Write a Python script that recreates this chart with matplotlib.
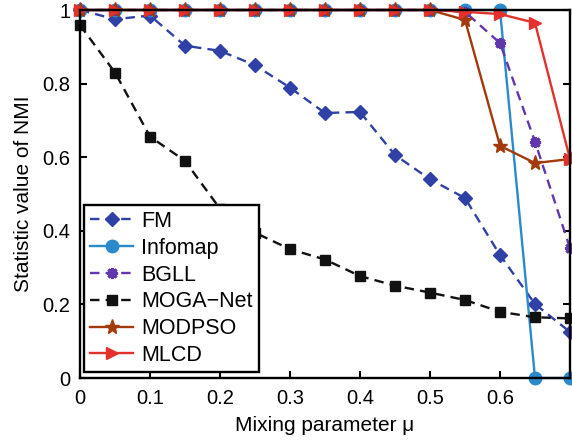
import numpy as np
import matplotlib
matplotlib.use('Agg')
import matplotlib.pyplot as plt

plt.rcParams['font.family'] = ['Liberation Sans', 'DejaVu Sans']

# Mixing parameter values and NMI for each algorithm
mu = [0.0, 0.05, 0.1, 0.15, 0.2, 0.25, 0.3, 0.35, 0.4, 0.45, 0.5, 0.55, 0.6, 0.65, 0.7]
fm = [1.0, 0.975, 0.985, 0.903, 0.889, 0.85, 0.789, 0.72, 0.723, 0.606, 0.54, 0.489, 0.334, 0.201, 0.125]
infomap = [1.0, 1.0, 1.0, 1.0, 1.0, 1.0, 1.0, 1.0, 1.0, 1.0, 1.0, 1.0, 1.0, 0.0, 0.0]
bgll = [1.0, 1.0, 1.0, 1.0, 1.0, 1.0, 1.0, 1.0, 1.0, 1.0, 1.0, 0.995, 0.91, 0.642, 0.353]
moga = [0.959, 0.83, 0.656, 0.59, 0.46, 0.395, 0.35, 0.322, 0.277, 0.251, 0.232, 0.212, 0.18, 0.165, 0.162]
modpso = [1.0, 1.0, 1.0, 1.0, 1.0, 1.0, 1.0, 1.0, 1.0, 1.0, 1.0, 0.973, 0.631, 0.584, 0.595]
mlcd = [1.0, 1.0, 1.0, 1.0, 1.0, 1.0, 1.0, 1.0, 1.0, 1.0, 1.0, 0.995, 0.989, 0.965, 0.595]

fig = plt.figure(figsize=(5.72, 4.4), dpi=100)
ax = fig.add_axes([80 / 572, 62 / 440, 490 / 572, 368 / 440])

dash = (4, 2.6)
ax.plot(mu, fm, '--', dashes=dash, color='#2f41a6', lw=1.7, marker='D', ms=7.5, label='FM', clip_on=False)
ax.plot(mu, infomap, '-', color='#2a8acb', lw=1.7, marker='o', ms=9, label='Infomap', clip_on=False)
ax.plot(mu, bgll, '--', dashes=dash, color='#6237ad', lw=1.7, marker=(8, 2, 0), ms=8, mew=2.2,
        label='BGLL', clip_on=False)
ax.plot(mu, moga, '--', dashes=dash, color='#111111', lw=1.7, marker='s', ms=6.5, label='MOGA\u2212Net',
        clip_on=False)
ax.plot(mu, modpso, '-', color='#a33a0c', lw=1.7, marker='*', ms=11, label='MODPSO', clip_on=False)
ax.plot(mu, mlcd, '-', color='#e4312b', lw=1.7, marker='>', ms=9, label='MLCD', clip_on=False)

ax.set_xlim(0, 0.7)
ax.set_ylim(0, 1)
ax.set_xticks([0, 0.1, 0.2, 0.3, 0.4, 0.5, 0.6, 0.7])
ax.set_xticklabels(['0', '0.1', '0.2', '0.3', '0.4', '0.5', '0.6', ''])
ax.set_yticks([0, 0.2, 0.4, 0.6, 0.8, 1])
ax.set_yticklabels(['0', '0.2', '0.4', '0.6', '0.8', '1'])
ax.tick_params(direction='in', length=5, width=1.5, labelsize=14.5, top=True, right=True, pad=7)
ax.tick_params(axis='x', pad=8)
for s in ax.spines.values():
    s.set_linewidth(1.7)

ax.set_xlabel('Mixing parameter \u03bc', fontsize=15, labelpad=6)
ax.set_ylabel('Statistic value of NMI', fontsize=15, labelpad=7)

leg = ax.legend(loc='lower left', bbox_to_anchor=(0.008, 0.015), fontsize=15.5, handlelength=2.0,
                fancybox=False, framealpha=1, edgecolor='black', borderpad=0.3,
                labelspacing=0.27, handletextpad=0.35, borderaxespad=0)
leg.get_frame().set_linewidth(1.7)

fig.savefig('out.png', dpi=100)
